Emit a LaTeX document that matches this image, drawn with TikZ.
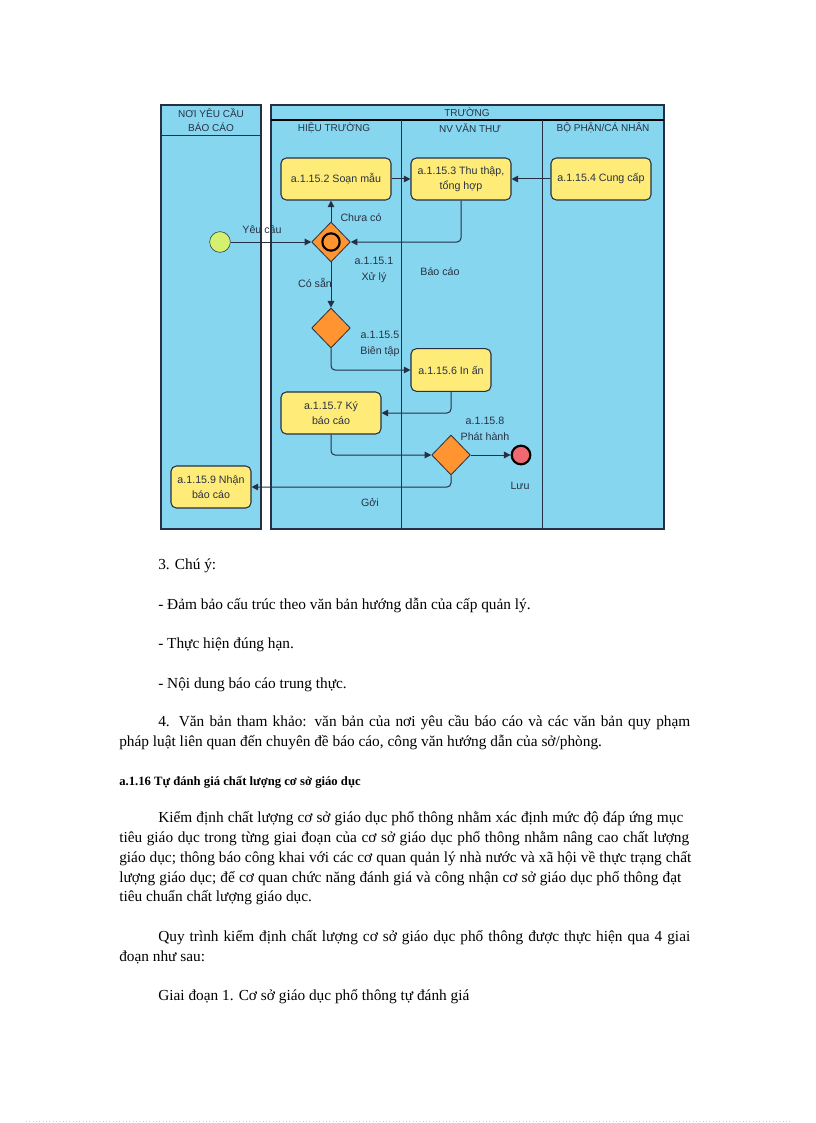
\documentclass[tikz,border=0pt]{standalone}
\usepackage{fontspec}
\setmainfont{Liberation Serif}
\newfontfamily\diagfont{Liberation Sans}
\usetikzlibrary{arrows.meta,shapes.geometric}

\definecolor{poolblue}{RGB}{135,214,240}
\definecolor{edgedark}{RGB}{38,48,68}
\definecolor{taskyellow}{RGB}{255,236,120}
\definecolor{gateorange}{RGB}{255,148,48}
\definecolor{startgreen}{RGB}{212,240,110}
\definecolor{endred}{RGB}{240,104,112}
\definecolor{labelgray}{RGB}{40,50,66}

\newcommand{\jline}[2]{\hbox to #1{#2}}

\begin{document}
\begin{tikzpicture}[x=0.75pt, y=-0.75pt,
    task/.style={draw=edgedark, fill=taskyellow, rounded corners=4pt, line width=0.8pt,
      align=center, font=\diagfont\fontsize{8}{11}\selectfont, text=labelgray, inner sep=1pt},
    gate/.style={diamond, draw=edgedark, fill=gateorange, line width=0.6pt,
      minimum width=29pt, minimum height=30pt, inner sep=0pt},
    flow/.style={-{Triangle[length=5pt,width=5pt]}, draw=edgedark, line width=0.75pt},
    lbl/.style={font=\diagfont\fontsize{8}{12}\selectfont, text=labelgray, align=center, inner sep=0pt},
    hdr/.style={font=\diagfont\fontsize{7.5}{11}\selectfont, text=labelgray, align=center, inner sep=0pt},
    para/.style={anchor=base west, inner sep=0pt, font=\fontsize{11.5}{14}\selectfont}]
  \useasboundingbox (0,0) rectangle (816,1123);

  % pools and lanes
  \draw[fill=poolblue, draw=edgedark, line width=0.9pt] (161,105) rectangle (261,529);
  \draw[draw=edgedark, line width=0.7pt] (161,135) -- (261,135);
  \draw[fill=poolblue, draw=edgedark, line width=0.9pt] (271,105) rectangle (664,529);
  \draw[draw=black, line width=1.5pt] (271,120) -- (664,120);
  \draw[draw=edgedark, line width=0.7pt] (401,120) -- (401,529);
  \draw[draw=edgedark, line width=0.7pt] (542,120) -- (542,529);

  \node[hdr] (poolnoi) at (211,120) {NƠI YÊU CẦU\\BÁO CÁO};
  \node[hdr] (pooltruong) at (467,112) {TRƯỜNG};
  \node[hdr] (lanehieu) at (334,128) {HIỆU TRƯỜNG};
  \node[hdr] (lanevanthu) at (470,128) {NV VĂN THƯ};
  \node[hdr] (lanebophan) at (603,128) {BỘ PHẬN/CÁ NHÂN};

  % events, gateways, tasks
  \node[circle, draw=edgedark, fill=startgreen, minimum size=15.5pt, inner sep=0pt] (start) at (220,242) {};
  \node[gate] (xuly) at (331,242) {};
  \node[circle, draw=black, line width=1.6pt, minimum size=13pt, inner sep=0pt] (xulyring) at (331,242) {};
  \node[task, minimum width=82.5pt, minimum height=31.5pt] (soanmau) at (336,179) {a.1.15.2 Soạn mẫu};
  \node[task, minimum width=75pt, minimum height=31.5pt] (thuthap) at (461,179) {a.1.15.3 Thu thập,\\tổng hợp};
  \node[task, minimum width=75pt, minimum height=31.5pt] (cungcap) at (601,179) {a.1.15.4 Cung cấp};
  \node[gate] (bientap) at (331,328) {};
  \node[task, minimum width=60pt, minimum height=32pt] (inan) at (451,370) {a.1.15.6 In ấn};
  \node[task, minimum width=75pt, minimum height=31.5pt] (ky) at (331,413) {a.1.15.7 Ký\\báo cáo};
  \node[gate] (phathanh) at (451,455) {};
  \node[circle, draw=black, fill=endred, line width=1.6pt, minimum size=14pt, inner sep=0pt] (luu) at (521,455) {};
  \node[task, minimum width=60pt, minimum height=31.5pt] (nhan) at (211,487) {a.1.15.9 Nhận\\báo cáo};

  % labels
  \node[lbl] (lblyeucau) at (262,229) {Yêu cầu};
  \node[lbl] (lblchuaco) at (361,218) {Chưa có};
  \node[lbl] (lblxuly) at (374,270) {a.1.15.1\\Xử lý};
  \node[lbl] (lblcosan) at (315,283) {Có sẵn};
  \node[lbl] (lblbaocao) at (440,272) {Báo cáo};
  \node[lbl] (lblbientap) at (380,344) {a.1.15.5\\Biên tập};
  \node[lbl] (lblphathanh) at (485,429) {a.1.15.8\\Phát hành};
  \node[lbl] (lblluu) at (520,486) {Lưu};
  \node[lbl] (lblgoi) at (370,503) {Gởi};

  % flows
  \draw[flow] (start) -- (xuly);
  \draw[flow] (xuly.north) -- (xuly.north |- soanmau.south);
  \draw[flow] (soanmau) -- (thuthap);
  \draw[flow] (cungcap) -- (thuthap);
  \draw[flow, rounded corners=3pt] (thuthap.south) |- (xuly.east);
  \draw[flow] (xuly.south) -- (bientap.north);
  \draw[flow, rounded corners=3pt] (bientap.south) |- (inan.west);
  \draw[flow, rounded corners=3pt] (inan.south) |- (ky.east);
  \draw[flow, rounded corners=3pt] (ky.south) |- (phathanh.west);
  \draw[flow] (phathanh) -- (luu);
  \draw[flow, rounded corners=3pt] (phathanh.south) |- (nhan.east);

  % text of the page
  \node[para] (chuy) at (158,569) {3. Chú ý:};
  \node[para] (dambao) at (158,609) {- Đảm bảo cấu trúc theo văn bản hướng dẫn của cấp quản lý.};
  \node[para] (thuchien) at (158,648) {- Thực hiện đúng hạn.};
  \node[para] (noidung) at (158,688) {- Nội dung báo cáo trung thực.};
  \node[para] (thamkhao1) at (158,726) {\jline{399pt}{4. Văn bản tham khảo: văn bản của nơi yêu cầu báo cáo và các văn bản quy phạm}};
  \node[para] (thamkhao2) at (119,746) {pháp luật liên quan đến chuyên đề báo cáo, công văn hướng dẫn của sở/phòng.};
  \node[para, font=\bfseries\fontsize{9.5}{12}\selectfont] (muc116) at (119,785) {a.1.16 Tự đánh giá chất lượng cơ sở giáo dục};
  \node[para] (kiemdinh1) at (158,822) {\jline{393.75pt}{Kiểm định chất lượng cơ sở giáo dục phổ thông nhằm xác định mức độ đáp ứng mục}};
  \node[para] (kiemdinh2) at (119,842) {\jline{427.5pt}{tiêu giáo dục trong từng giai đoạn của cơ sở giáo dục phổ thông nhằm nâng cao chất lượng}};
  \node[para] (kiemdinh3) at (119,862) {\jline{429pt}{giáo dục; thông báo công khai với các cơ quan quản lý nhà nước và xã hội về thực trạng chất}};
  \node[para] (kiemdinh4) at (119,882) {\jline{421.5pt}{lượng giáo dục; để cơ quan chức năng đánh giá và công nhận cơ sở giáo dục phổ thông đạt}};
  \node[para] (kiemdinh5) at (119,901) {tiêu chuẩn chất lượng giáo dục.};
  \node[para] (quytrinh1) at (158,941) {\jline{399pt}{Quy trình kiểm định chất lượng cơ sở giáo dục phổ thông được thực hiện qua 4 giai}};
  \node[para] (quytrinh2) at (119,961) {đoạn như sau:};
  \node[para] (giaidoan1) at (158,1000) {Giai đoạn 1. Cơ sở giáo dục phổ thông tự đánh giá};

  \draw[gray!40, dotted, line width=0.5pt] (26,1121) -- (792,1121);
\end{tikzpicture}
\end{document}
